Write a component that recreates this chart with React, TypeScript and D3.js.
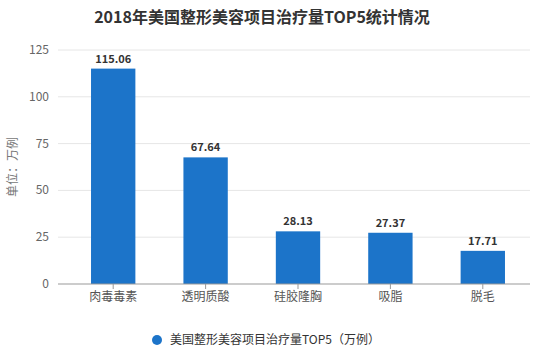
import React from "react";
import * as d3 from "d3";

const categories = ["肉毒毒素", "透明质酸", "硅胶隆胸", "吸脂", "脱毛"];
const values = [115.06, 67.64, 28.13, 27.37, 17.71];
const yTicks = [0, 25, 50, 75, 100, 125];
const title = "2018年美国整形美容项目治疗量TOP5统计情况";
const seriesName = "美国整形美容项目治疗量TOP5（万例）";
const yLabel = "单位：万例";

export default function App() {
  const W = 544, H = 356;
  const left = 58, right = 530, top = 50, bottom = 284;
  const x = d3.scaleBand<string>().domain(categories).range([67, 529]).paddingInner(0.52).paddingOuter(0.26);
  const y = d3.scaleLinear().domain([0, 125]).range([bottom, top]);
  const color = "#1c74c9";
  const font = "'Microsoft YaHei', 'Noto Sans CJK SC', sans-serif";
  return (
    <svg width={W} height={H} style={{ position: "absolute", left: 0, top: 0, background: "#fff" }} fontFamily={font}>
      <rect width={W} height={H} fill="#fff" />
      <text x={262} y={23} textAnchor="middle" fontSize={16} fontWeight="bold" fill="#333">{title}</text>
      {yTicks.map((t) => (
        <g key={t}>
          {t > 0 && <line x1={left} x2={right} y1={y(t)} y2={y(t)} stroke="#e6e6e6" strokeWidth={1} />}
          <text x={49} y={y(t) + 4} textAnchor="end" fontSize={12} fill="#666">{t}</text>
        </g>
      ))}
      <text transform={`translate(17,${(top + bottom) / 2}) rotate(-90)`} textAnchor="middle" fontSize={12} fill="#777">{yLabel}</text>
      {categories.map((c, i) => (
        <g key={c}>
          <rect x={x(c)} y={y(values[i])} width={x.bandwidth()} height={bottom - y(values[i])} fill={color} />
          <text x={(x(c) as number) + x.bandwidth() / 2} y={y(values[i]) - 6} textAnchor="middle" fontSize={11} fontWeight="bold" fill="#333">{values[i].toFixed(2)}</text>
          <line x1={(x(c) as number) + x.bandwidth() / 2} x2={(x(c) as number) + x.bandwidth() / 2} y1={bottom} y2={bottom + 5} stroke="#999" />
          <text x={(x(c) as number) + x.bandwidth() / 2} y={bottom + 17} textAnchor="middle" fontSize={12} fill="#555">{c}</text>
        </g>
      ))}
      <line x1={left} x2={right} y1={bottom} y2={bottom} stroke="#999" strokeWidth={1} />
      <circle cx={157} cy={340} r={5} fill={color} />
      <text x={170} y={344} fontSize={12} fill="#333">{seriesName}</text>
    </svg>
  );
}
